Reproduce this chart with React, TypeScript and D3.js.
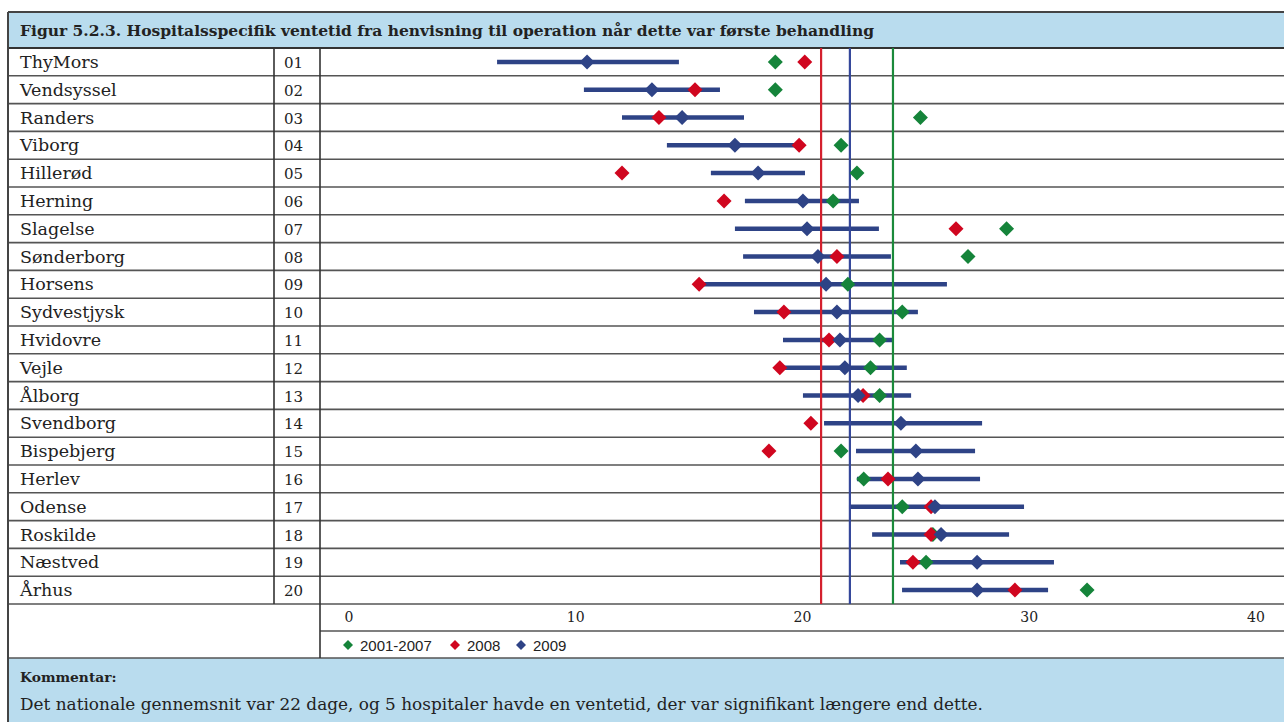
import React from "react";
import * as d3 from "d3";

const hospitals = ["ThyMors","Vendsyssel","Randers","Viborg","Hillerød","Herning","Slagelse","Sønderborg","Horsens","Sydvestjysk","Hvidovre","Vejle","Ålborg","Svendborg","Bispebjerg","Herlev","Odense","Roskilde","Næstved","Århus"];
const codes = ["01","02","03","04","05","06","07","08","09","10","11","12","13","14","15","16","17","18","19","20"];
const v0107: (number | null)[] = [18.8,18.8,25.2,21.7,22.4,21.35,29.0,27.3,22.0,24.4,23.4,23.0,23.4,null,21.7,22.7,24.4,25.75,25.45,32.55];
const v2008 = [20.1,15.26,13.67,19.85,12.04,16.54,26.77,21.52,15.44,19.18,21.17,19.0,22.67,20.37,18.52,23.77,25.67,25.67,24.87,29.37];
const v2009 = [10.5,13.36,14.69,17.02,18.04,20.02,20.2,20.68,21.04,21.52,21.65,21.87,22.45,24.34,25.0,25.09,25.84,26.11,27.7,27.7];
const ciLow = [6.53,10.36,12.04,14.02,15.96,17.46,17.02,17.38,15.44,17.86,19.14,19.0,20.02,20.95,22.36,22.4,22.05,23.07,24.3,24.39];
const ciHigh = [14.55,16.36,17.42,19.76,20.11,22.49,23.37,23.9,26.37,25.09,23.95,24.6,24.79,27.92,27.61,27.83,29.77,29.11,31.09,30.83];
const xTicks = [0,10,20,30,40];
const avgLines = [
  { label: "2008", value: 20.82, color: "#d4202e" },
  { label: "2009", value: 22.09, color: "#34479a" },
  { label: "2001-2007", value: 23.99, color: "#1b8a3b" },
];
const legendItems = [
  { label: "2001-2007", color: "#15843a" },
  { label: "2008", color: "#d0061f" },
  { label: "2009", color: "#2e4386" },
];
const titleText = "Figur 5.2.3. Hospitalsspecifik ventetid fra henvisning til operation når dette var første behandling";
const commentHead = "Kommentar:";
const commentText = "Det nationale gennemsnit var 22 dage, og 5 hospitaler havde en ventetid, der var signifikant længere end dette.";

const GREEN = "#15843a";
const RED = "#d0061f";
const BLUE = "#2e4386";
const BAND = "#b9dcee";
const LINE = "#555";
const SERIF = "'DejaVu Serif', serif";
const SANS = "'Liberation Sans', Arial, sans-serif";

const W = 1284, H = 722;
const left = 8, col1 = 274, col2 = 320;
const top = 12, titleBottom = 48, rowsBottom = 604, axisBottom = 631, legendBottom = 658;

const x = d3.scaleLinear().domain([0, 40]).range([349, 1256]);
const y = d3.scaleBand<string>().domain(codes).range([titleBottom, rowsBottom]).padding(0);

function diamond(cx: number, cy: number, r: number) {
  return `M${cx},${cy - r}L${cx + r},${cy}L${cx},${cy + r}L${cx - r},${cy}Z`;
}

export default function App() {
  const bw = y.bandwidth();
  const legendX = [348, 455, 521];
  return (
    <svg width={W} height={H} style={{ position: "fixed", left: 0, top: 0, background: "#fff" }}>
      {/* title band */}
      <rect x={left} y={top} width={W - left} height={titleBottom - top} fill={BAND} />
      <text x={20} y={36} fontFamily={SERIF} fontWeight="bold" fontSize={15.5} fill="#222">{titleText}</text>
      {/* comment band */}
      <rect x={left} y={legendBottom} width={W - left} height={H - legendBottom} fill={BAND} />
      <text x={20} y={682} fontFamily={SERIF} fontWeight="bold" fontSize={13.8} fill="#222">{commentHead}</text>
      <text x={20} y={710} fontFamily={SERIF} fontSize={16.9} fill="#222">{commentText}</text>

      {/* row labels */}
      {codes.map((c, i) => (
        <g key={c}>
          <text x={20} y={(y(c) as number) + bw / 2 + 6} fontFamily={SERIF} fontSize={17.5} fill="#222">{hospitals[i]}</text>
          <text x={284} y={(y(c) as number) + bw / 2 + 6} fontFamily={SERIF} fontSize={15} fill="#222">{c}</text>
        </g>
      ))}

      {/* horizontal grid lines */}
      <line x1={left} x2={W} y1={top} y2={top} stroke="#444" strokeWidth={2} />
      <line x1={left} x2={W} y1={titleBottom} y2={titleBottom} stroke="#333" strokeWidth={2} />
      {codes.slice(1).map((c) => (
        <line key={c} x1={left} x2={W} y1={y(c) as number} y2={y(c) as number} stroke={LINE} strokeWidth={1.6} />
      ))}
      <line x1={left} x2={W} y1={rowsBottom} y2={rowsBottom} stroke={LINE} strokeWidth={1.6} />
      <line x1={col2} x2={W} y1={axisBottom} y2={axisBottom} stroke={LINE} strokeWidth={1.6} />
      <line x1={left} x2={W} y1={legendBottom} y2={legendBottom} stroke={LINE} strokeWidth={1.6} />
      {/* vertical grid lines */}
      <line x1={left} x2={left} y1={top} y2={H} stroke="#444" strokeWidth={2} />
      <line x1={col1} x2={col1} y1={titleBottom} y2={rowsBottom} stroke="#333" strokeWidth={1.6} />
      <line x1={col2} x2={col2} y1={titleBottom} y2={legendBottom} stroke="#333" strokeWidth={1.6} />

      {/* axis tick labels */}
      {xTicks.map((t) => (
        <text key={t} x={x(t)} y={622} textAnchor="middle" fontFamily={SERIF} fontSize={14} fill="#222">{t}</text>
      ))}

      {/* legend */}
      {legendItems.map((it, i) => (
        <g key={it.label}>
          <path d={diamond(legendX[i], 645, 5)} fill={it.color} />
          <text x={legendX[i] + 12} y={650.5} fontFamily={SANS} fontSize={15} fill="#222">{it.label}</text>
        </g>
      ))}

      {/* CI bars */}
      {codes.map((c, i) => (
        <line key={"ci" + c} x1={x(ciLow[i])} x2={x(ciHigh[i])} y1={(y(c) as number) + bw / 2} y2={(y(c) as number) + bw / 2} stroke={BLUE} strokeWidth={4.5} />
      ))}

      {/* national average lines */}
      {avgLines.map((a) => (
        <line key={a.label} x1={x(a.value)} x2={x(a.value)} y1={titleBottom} y2={rowsBottom} stroke={a.color} strokeWidth={2.2} />
      ))}

      {/* markers */}
      {codes.map((c, i) => {
        const cy = (y(c) as number) + bw / 2;
        const g = v0107[i];
        return (
          <g key={"m" + c}>
            {g != null && <path d={diamond(x(g), cy, 7.5)} fill={GREEN} />}
            <path d={diamond(x(v2008[i]), cy, 7.5)} fill={RED} />
            <path d={diamond(x(v2009[i]), cy, 7.5)} fill={BLUE} />
          </g>
        );
      })}
    </svg>
  );
}
